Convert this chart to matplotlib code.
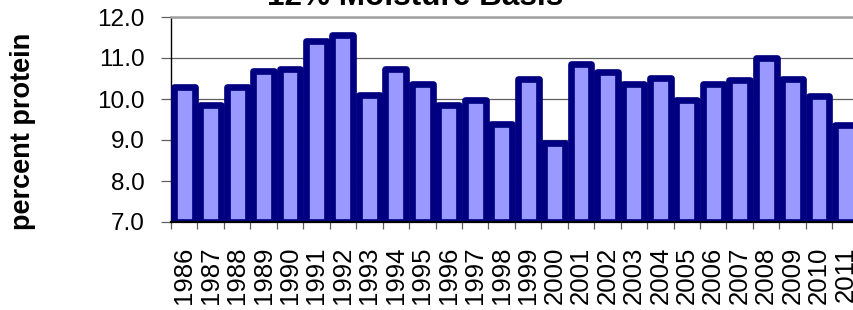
import matplotlib
matplotlib.use("Agg")
import matplotlib.pyplot as plt
import numpy as np

years = ["1986", "1987", "1988", "1989", "1990", "1991", "1992", "1993", "1994",
         "1995", "1996", "1997", "1998", "1999", "2000", "2001", "2002", "2003",
         "2004", "2005", "2006", "2007", "2008", "2009", "2010", "2011"]
protein = [10.30, 9.85, 10.30, 10.68, 10.72, 11.41, 11.55, 10.09, 10.74,
           10.37, 9.85, 9.97, 9.40, 10.49, 8.93, 10.85, 10.66, 10.37,
           10.51, 9.98, 10.37, 10.46, 11.00, 10.49, 10.07, 9.36]
y_ticks = [7.0, 8.0, 9.0, 10.0, 11.0, 12.0]
title = "12% Moisture Basis"
ylabel = "percent protein"

plt.rcParams['font.family'] = ['Liberation Sans', 'DejaVu Sans']

W, H = 854, 310
fig = plt.figure(figsize=(W / 100, H / 100), dpi=100)
left = 171 / W
right = (171 + 26 * 26.45) / W
top = 1 - 17 / H
bottom = 1 - 222 / H
ax = fig.add_axes([left, bottom, right - left, top - bottom])

base = y_ticks[0]
x = np.arange(len(years))
bars = ax.bar(x, [v - base for v in protein], bottom=base, width=0.79,
              color="#9999FF", edgecolor="#000080", linewidth=4.8, zorder=3)
for b in bars:
    b.set_joinstyle('round')

ax.set_xlim(-0.5, len(years) - 0.5)
ax.set_ylim(y_ticks[0], y_ticks[-1])
ax.set_yticks(y_ticks)
ax.set_yticklabels([f"{v:.1f}" for v in y_ticks], fontsize=17.5)
ax.yaxis.grid(True, color="#606060", linewidth=0.9, zorder=0)

ax.set_xticks(x)
ax.set_xticklabels(years, rotation=90, fontsize=18.5, va='top', ha='center')
ax.set_xticks(np.arange(-0.5, len(years), 1.0), minor=True)
ax.tick_params(axis='x', which='major', length=0, pad=18)
ax.tick_params(axis='x', which='minor', length=5, color="#606060", width=0.9)
ax.tick_params(axis='y', which='major', length=7, color="#606060", width=0.9, pad=12)

ax.spines['right'].set_visible(False)
ax.spines['top'].set_color("#a0a0a0")
ax.spines['top'].set_linewidth(1.8)
ax.spines['left'].set_color("black")
ax.spines['left'].set_linewidth(1.0)
ax.spines['bottom'].set_color("black")
ax.spines['bottom'].set_linewidth(1.6)
ax.spines['bottom'].set_zorder(4)

fig.text(23 / W, 1 - 131 / H, ylabel, rotation=90, fontsize=19.5, fontweight='bold',
         ha='center', va='center')
fig.text(415 / W, 1 - 5 / H, title, fontsize=22.7, fontweight='bold',
         ha='center', va='baseline')

fig.savefig("out.png", dpi=100)
